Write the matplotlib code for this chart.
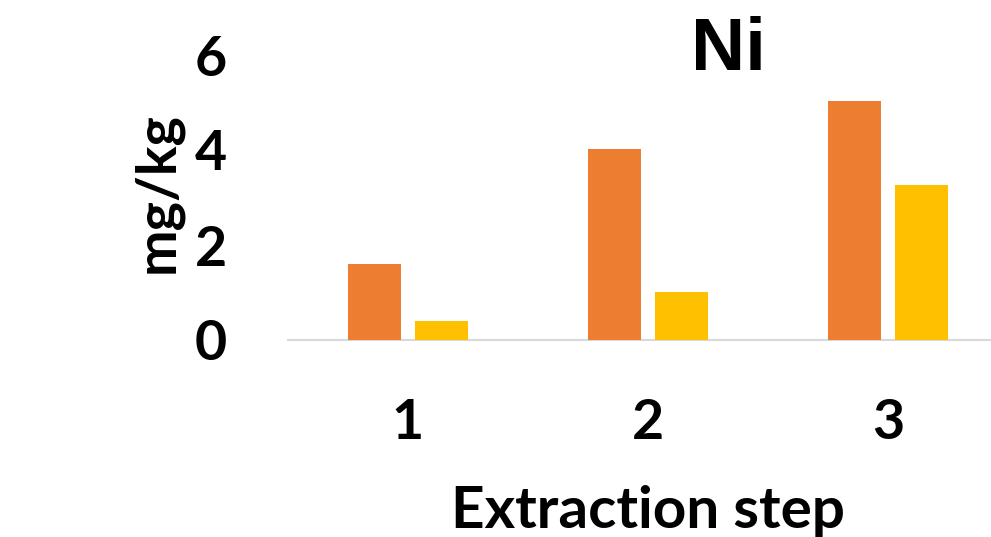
import matplotlib
matplotlib.use("Agg")
import matplotlib.pyplot as plt
import numpy as np

steps = ["1", "2", "3"]
series_a = [1.6, 4.02, 5.03]
series_b = [0.4, 1.01, 3.26]
yticks = [0, 2, 4, 6]

ORANGE = "#ED7D31"
YELLOW = "#FFC000"
FONT = "Lato"
W, H = 991, 537

fig = plt.figure(figsize=(W / 100, H / 100), dpi=100)
ax = fig.add_axes([288 / W, 1 - 340 / H, 720 / W, 285 / H])

x = np.arange(len(steps))
ax.bar(x - 0.14, series_a, width=0.22, color=ORANGE, zorder=3)
ax.bar(x + 0.14, series_b, width=0.22, color=YELLOW, zorder=3)

ax.set_xlim(-0.5, 2.5)
ax.set_ylim(0, 6)
ax.set_xticks(x)
ax.set_xticklabels(steps)
ax.set_yticks(yticks)

for s in ["top", "right", "left"]:
    ax.spines[s].set_visible(False)
ax.spines["bottom"].set_color("#D9D9D9")
ax.spines["bottom"].set_linewidth(1.5)
ax.tick_params(axis="both", length=0, labelsize=40)
ax.tick_params(axis="x", pad=42)
ax.tick_params(axis="y", pad=44)
for lbl in ax.get_xticklabels() + ax.get_yticklabels():
    lbl.set_fontfamily(FONT)
    lbl.set_fontweight("bold")

# axis titles placed by baseline
fig.text(648 / W, 1 - 528 / H, "Extraction step", fontsize=42, fontweight="bold",
         family=FONT, ha="center", va="baseline")
fig.text(173 / W, 1 - 193 / H, "mg/kg", fontsize=40, fontweight="bold",
         family=FONT, ha="center", va="baseline", rotation=90, rotation_mode="anchor")
fig.text(728 / W, 1 - 70 / H, "Ni", fontsize=54, fontweight="bold",
         family="Liberation Sans", ha="center", va="baseline")

fig.savefig("out.png", dpi=100)
